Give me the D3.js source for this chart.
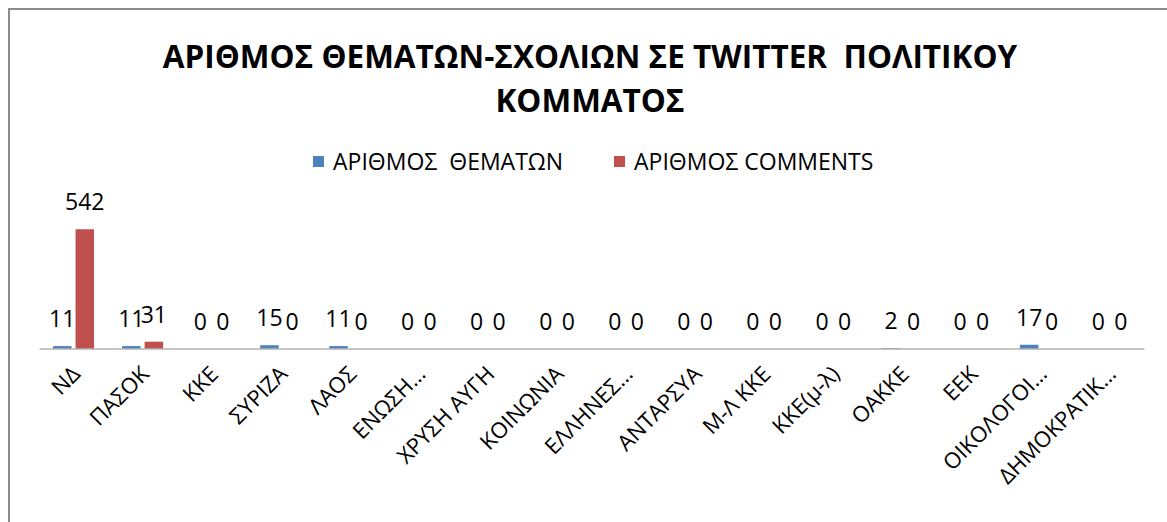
<!DOCTYPE html>
<html>
<head>
<meta charset="utf-8">
<title>twitter</title>
<script src="https://cdn.jsdelivr.net/npm/d3@7"></script>
<style>
body{margin:0;background:#fff;}
svg text{font-family:"Open Sans",sans-serif;fill:#000;}
</style>
</head>
<body>
<script>
// data
var parties = ["ΝΔ","ΠΑΣΟΚ","ΚΚΕ","ΣΥΡΙΖΑ","ΛΑΟΣ","ΕΝΩΣΗ…","ΧΡΥΣΗ ΑΥΓΗ","ΚΟΙΝΩΝΙΑ","ΕΛΛΗΝΕΣ…","ΑΝΤΑΡΣΥΑ","Μ-Λ ΚΚΕ","ΚΚΕ(μ-λ)","ΟΑΚΚΕ","ΕΕΚ","ΟΙΚΟΛΟΓΟΙ…","ΔΗΜΟΚΡΑΤΙΚ…"];
var themes   = [11,11,0,15,11,0,0,0,0,0,0,0,2,0,17,0];
var comments = [542,31,0,0,0,0,0,0,0,0,0,0,0,0,0,0];
var seriesNames = ["ΑΡΙΘΜΟΣ  ΘΕΜΑΤΩΝ","ΑΡΙΘΜΟΣ COMMENTS"];
var colors = ["#4f81bd","#c0504d"];
var titleLines = ["ΑΡΙΘΜΟΣ ΘΕΜΑΤΩΝ-ΣΧΟΛΙΩΝ ΣΕ TWITTER  ΠΟΛΙΤΙΚΟΥ","ΚΟΜΜΑΤΟΣ"];

var width = 1167, height = 522,
	left = 39, right = 1144, axisY = 348.5;

var svg = d3.select("body").append("svg")
	.attr("width",width)
	.attr("height",height);

// frame of the chart area (runs off the right and bottom)
svg.append("rect")
	.attr("x",9).attr("y",9)
	.attr("width",1300).attr("height",700)
	.attr("fill","none")
	.attr("stroke","#8c8c8c")
	.attr("stroke-width",2);

// title
svg.selectAll("text.title")
	.data(titleLines)
	.enter().append("text")
	.attr("class","title")
	.attr("x",590)
	.attr("y",function(d,i){ return 68+i*44; })
	.attr("text-anchor","middle")
	.style("font-weight","bold")
	.style("font-size","31.5px")
	.style("white-space","pre")
	.text(function(d){ return d; });

// legend
var legendX = [313,614];
var lg = svg.selectAll("g.legend")
	.data(seriesNames)
	.enter().append("g")
	.attr("class","legend")
	.attr("transform",function(d,i){ return "translate("+legendX[i]+",156)"; });
lg.append("rect")
	.attr("width",11).attr("height",11)
	.attr("fill",function(d,i){ return colors[i]; });
lg.append("text")
	.attr("x",20).attr("y",14)
	.style("font-size","23px")
	.style("white-space","pre")
	.text(function(d){ return d; });

var x = d3.scaleBand()
	.domain(parties)
	.range([left,right]);
var groupW = 41;
var x1 = d3.scaleBand()
	.domain([0,1])
	.range([(x.bandwidth()-groupW)/2,(x.bandwidth()+groupW)/2])
	.paddingInner(0.18);
var y = d3.scaleLinear()
	.domain([0,600])
	.range([axisY,axisY-132]);

var rows = parties.map(function(p,i){
	return {party:p, values:[themes[i],comments[i]]};
});

var groups = svg.selectAll("g.grp")
	.data(rows)
	.enter().append("g")
	.attr("class","grp")
	.attr("transform",function(d){ return "translate("+x(d.party)+",0)"; });

groups.selectAll("rect")
	.data(function(d){ return d.values; })
	.enter().append("rect")
	.attr("x",function(d,i){ return x1(i); })
	.attr("y",function(d){ return y(d); })
	.attr("width",x1.bandwidth())
	.attr("height",function(d){ return axisY-y(d); })
	.attr("fill",function(d,i){ return colors[i]; });

groups.selectAll("text")
	.data(function(d){ return d.values; })
	.enter().append("text")
	.attr("x",function(d,i){ return x1(i)+x1.bandwidth()/2; })
	.attr("y",function(d){ return y(d)-19; })
	.attr("text-anchor","middle")
	.style("font-size","23px")
	.text(function(d){ return d; });

// category axis
var xAxis = d3.axisBottom(x).tickSize(0).tickSizeOuter(0);
var ax = svg.append("g")
	.attr("transform","translate(0,"+axisY+")")
	.call(xAxis);
ax.select(".domain").attr("stroke","#8c8c8c");
ax.selectAll("text")
	.attr("y",0).attr("dy",0)
	.attr("text-anchor","end")
	.attr("transform","translate(8,27) rotate(-45)")
	.style("font-family","'Open Sans',sans-serif")
	.style("font-size","22px")
	.attr("fill","#000");
</script>
</body>
</html>
